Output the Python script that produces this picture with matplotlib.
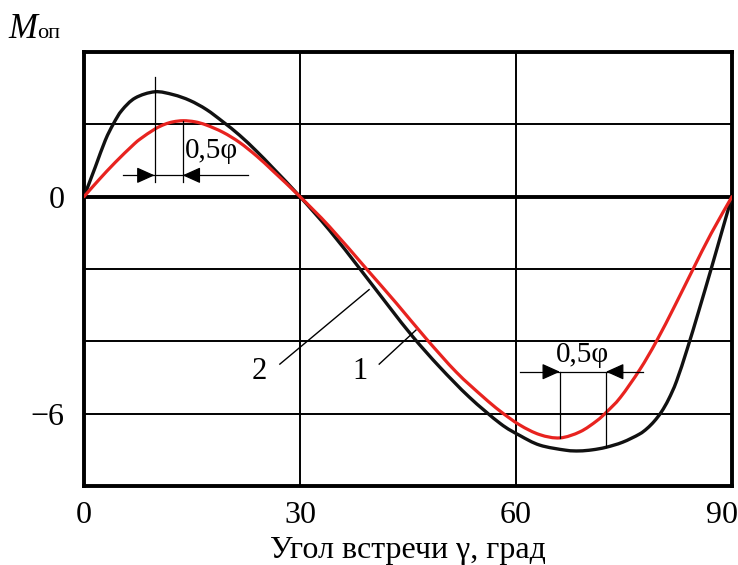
import matplotlib
matplotlib.use("Agg")
import matplotlib.pyplot as plt
import matplotlib.transforms as mtransforms
from matplotlib.path import Path
from matplotlib.patches import PathPatch

plt.rcParams["font.family"] = ["Liberation Serif", "DejaVu Serif"]

# Angle of encounter, degrees, and moment for the two curves
gamma_2 = [0, 1.57, 2.96, 4.1, 5.27, 7.12, 9.85, 12.4, 14.7, 17.0, 19.3, 21.6,
           24.0, 26.3, 30, 34.1, 38.3, 42.4, 45.7, 49.4, 53.5, 57.8, 60.5,
           63.3, 66.9, 68.8, 70.6, 72.5, 74.8, 77.1, 78.2, 79.2, 80.2, 81.2,
           82.3, 83.8, 85.4, 87.1, 88.5, 89.7, 90]
moment_2 = [0, 0.82, 1.56, 2.02, 2.39, 2.73, 2.90, 2.82, 2.66, 2.41, 2.07, 1.70,
            1.25, 0.78, 0, -0.93, -1.99, -3.05, -3.88, -4.71, -5.54, -6.27,
            -6.60, -6.87, -7.01, -7.03, -7.00, -6.93, -6.79, -6.57, -6.41,
            -6.21, -5.95, -5.60, -5.10, -4.20, -3.15, -2.0, -1.03, -0.2, 0]

gamma_1 = [0, 2.04, 4.35, 6.67, 7.77, 9.85, 11.2, 12.4, 13.8, 15.4, 17.0, 19.3,
           21.6, 24.0, 26.3, 30, 34.1, 39.2, 43.4, 47.5, 51.7, 55.4, 57.8, 60.5,
           63.3, 66.1, 68.9, 71.2, 72.6, 74.5, 77.2, 79.5, 82.1, 84.6, 87.1, 90]
moment_1 = [0, 0.46, 0.95, 1.40, 1.59, 1.87, 2.00, 2.07, 2.10, 2.07, 1.98, 1.78,
            1.50, 1.12, 0.70, 0, -0.83, -1.99, -2.95, -3.92, -4.85, -5.53,
            -5.93, -6.31, -6.58, -6.67, -6.50, -6.20, -5.95, -5.55, -4.78, -4.0,
            -3.0, -2.0, -1.02, 0]

x_ticks = [0, 30, 60, 90]
y_ticks = [0, -6]
y_tick_labels = ["0", "\u22126"]
h_grid = [2, -2, -4, -6]
v_grid = [30, 60]

# Extremum positions used for the 0,5φ dimension marks
peak_2, peak_1 = 9.8, 13.7
trough_1, trough_2 = 66.1, 72.5

RED = "#e8231f"
FS_TICK = 23
FS_NOTE = 21


def smooth_path(xs, ys):
    """Cubic Bezier path passing through every (x, y) knot (Catmull-Rom)."""
    pts = list(zip(xs, ys))
    n = len(pts)
    verts = [pts[0]]
    codes = [Path.MOVETO]
    for i in range(n - 1):
        p0 = pts[i - 1] if i > 0 else pts[i]
        p1 = pts[i]
        p2 = pts[i + 1]
        p3 = pts[i + 2] if i + 2 < n else pts[i + 1]
        c1 = (p1[0] + (p2[0] - p0[0]) / 6, p1[1] + (p2[1] - p0[1]) / 6)
        c2 = (p2[0] - (p3[0] - p1[0]) / 6, p2[1] - (p3[1] - p1[1]) / 6)
        verts += [c1, c2, p2]
        codes += [Path.CURVE4] * 3
    return Path(verts, codes)


fig = plt.figure(figsize=(7.38, 5.65), dpi=100)
ax = fig.add_axes([84 / 738, 1 - 486 / 565, 648 / 738, 434 / 565])
ax.set_xlim(0, 90)
ax.set_ylim(-8, 4)

for y in h_grid:
    ax.axhline(y, color="black", lw=1.4, zorder=1)
for x in v_grid:
    ax.axvline(x, color="black", lw=1.4, zorder=1)
ax.axhline(0, color="black", lw=2.8, zorder=1.5)

ax.add_patch(PathPatch(smooth_path(gamma_2, moment_2), fill=False,
                       edgecolor="#111111", lw=2.4, zorder=3,
                       capstyle="round", joinstyle="round"))
ax.add_patch(PathPatch(smooth_path(gamma_1, moment_1), fill=False,
                       edgecolor=RED, lw=2.3, zorder=4,
                       capstyle="round", joinstyle="round"))

for s in ax.spines.values():
    s.set_linewidth(2.8)
ax.set_xticks(x_ticks)
ax.set_xticklabels([str(v) for v in x_ticks], fontsize=FS_TICK)
ax.set_yticks(y_ticks)
ax.set_yticklabels(y_tick_labels, fontsize=FS_TICK)
ax.tick_params(length=0)
ax.tick_params(axis="x", pad=11)
ax.tick_params(axis="y", pad=14)

# keep the last x label inside the canvas
last = ax.get_xticklabels()[-1]
last.set_transform(last.get_transform() +
                   mtransforms.ScaledTranslation(-10 / 100, 0, fig.dpi_scale_trans))

ax.set_xlabel("Угол встречи γ, град", fontsize=FS_TICK, labelpad=4)

fig.text(8 / 738, 1 - 38 / 565, "M", fontsize=25, style="italic",
         va="baseline", ha="left")
fig.text(37 / 738, 1 - 38.5 / 565, "оп", fontsize=16, va="baseline", ha="left")

thin = dict(color="black", lw=0.9, zorder=5)


def arrow(tip, base):
    ax.annotate("", xy=tip, xytext=base, zorder=6,
                arrowprops=dict(arrowstyle="-|>,head_length=1.0,head_width=0.45",
                                mutation_scale=11, lw=0.9, color="black",
                                shrinkA=0, shrinkB=0))


# Upper dimension: shift between maxima
ax.plot([peak_2, peak_2], [0.41, 3.31], **thin)
ax.plot([peak_1, peak_1], [0.41, 2.10], **thin)
ax.plot([5.45, 22.8], [0.59, 0.59], **thin)
arrow((peak_2, 0.59), (peak_2 - 2.0, 0.59))
arrow((peak_1, 0.59), (peak_1 + 2.0, 0.59))
ax.text(14.0, 1.27, "0,5φ", fontsize=FS_NOTE, ha="left", va="center", zorder=6)

# Lower dimension: shift between minima
ax.plot([trough_1, trough_1], [-4.84, -6.67], **thin)
ax.plot([trough_2, trough_2], [-4.84, -6.93], **thin)
ax.plot([60.5, 77.7], [-4.84, -4.84], **thin)
arrow((trough_1, -4.84), (trough_1 - 2.2, -4.84))
arrow((trough_2, -4.84), (trough_2 + 2.2, -4.84))
ax.text(69.3, -4.74, "0,5φ", fontsize=FS_NOTE, ha="center", va="bottom", zorder=6)

# Curve labels with leader lines
ax.plot([27.2, 39.6], [-4.63, -2.57], color="black", lw=1.0, zorder=5)
ax.text(24.4, -4.84, "2", fontsize=22, ha="center", va="center")
ax.plot([41.0, 46.1], [-4.63, -3.69], color="black", lw=1.0, zorder=5)
ax.text(38.3, -4.84, "1", fontsize=22, ha="center", va="center")

fig.savefig("out.png", dpi=100)
